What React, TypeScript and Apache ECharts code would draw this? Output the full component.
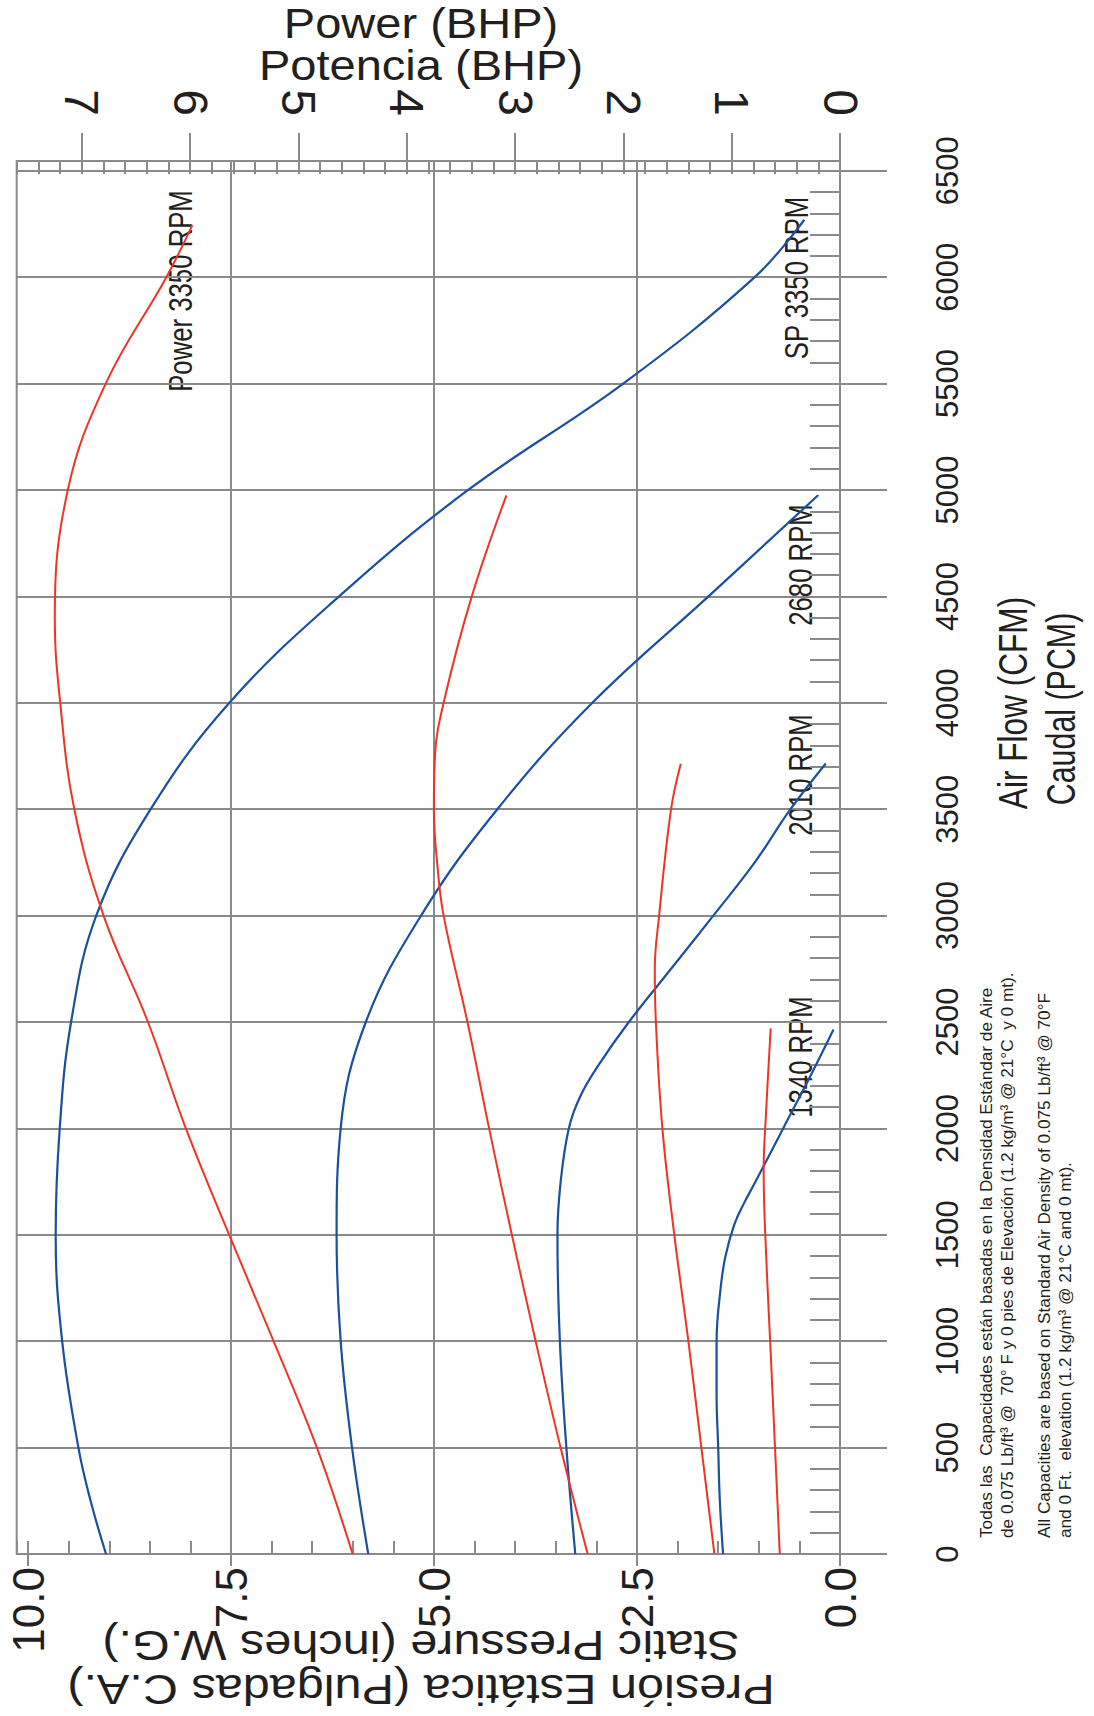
import React, { useEffect, useRef } from "react";
import * as echarts from "echarts";

// ---------- data ----------
const cfmTicks = [0, 500, 1000, 1500, 2000, 2500, 3000, 3500, 4000, 4500, 5000, 5500, 6000, 6500];
const pressureTicks = [0, 2.5, 5, 7.5, 10];
const pressureGrid = [2.5, 5, 7.5];
const powerTicks = [0, 1, 2, 3, 4, 5, 6, 7];

// Static pressure curves (inches W.G.) vs air flow (CFM)
const sp3350Cfm = [0, 250, 500, 1000, 1500, 2000, 2500, 3000, 3500, 4000, 4500, 5000, 5500, 6000, 6270];
const sp3350 = [9.04, 9.23, 9.38, 9.58, 9.66, 9.61, 9.47, 9.16, 8.49, 7.52, 6.17, 4.58, 2.67, 1.05, 0.44];

const sp2680Cfm = [0, 500, 1000, 1500, 2000, 2500, 3000, 3500, 4000, 4500, 4975];
const sp2680 = [5.81, 6.01, 6.15, 6.2, 6.15, 5.84, 5.16, 4.22, 3.05, 1.62, 0.27];

const sp2010Cfm = [0, 500, 1000, 1500, 1750, 2000, 2150, 2300, 2500, 2750, 3000, 3250, 3500, 3715];
const sp2010 = [3.26, 3.37, 3.45, 3.48, 3.44, 3.34, 3.2, 2.97, 2.6, 2.08, 1.56, 1.05, 0.61, 0.175];

const sp1340Cfm = [0, 250, 500, 750, 1000, 1250, 1400, 1550, 1650, 1750, 2000, 2250, 2465];
const sp1340 = [1.44, 1.48, 1.5, 1.52, 1.52, 1.47, 1.41, 1.3, 1.18, 1.04, 0.7, 0.36, 0.08];

// Power curves (BHP) vs air flow (CFM)
const pw3350Cfm = [0, 500, 1000, 1500, 2000, 2500, 3000, 3500, 4000, 4400, 5000, 5500, 6000, 6245];
const pw3350 = [4.5, 4.83, 5.23, 5.64, 6.04, 6.39, 6.8, 7.07, 7.2, 7.25, 7.13, 6.78, 6.22, 5.98];

const pw2680Cfm = [0, 500, 1000, 1500, 2000, 2500, 3000, 3250, 3500, 3750, 4000, 4500, 4975];
const pw2680 = [2.33, 2.58, 2.81, 3.03, 3.24, 3.44, 3.66, 3.72, 3.75, 3.74, 3.66, 3.4, 3.08];

const pw2010Cfm = [0, 500, 1000, 1500, 2000, 2500, 2750, 3000, 3500, 3714];
const pw2010 = [1.16, 1.28, 1.4, 1.53, 1.64, 1.7, 1.71, 1.67, 1.56, 1.47];

const pw1340Cfm = [0, 500, 1000, 1500, 1800, 2100, 2470];
const pw1340 = [0.556, 0.6, 0.645, 0.69, 0.705, 0.68, 0.64];

const curveLabels = ["Power 3350 RPM", "SP 3350 RPM", "2680 RPM", "2010 RPM", "1340 RPM"];
const powerTitle = "Power (BHP)\nPotencia (BHP)";
const pressureTitle = "Presión Estática (Pulgadas C.A.)\nStatic Pressure (inches W.G.)";
const flowTitle = ["Air Flow (CFM)", "Caudal (PCM)"];
const notes = [
  "Todas las  Capacidades están basadas en la Densidad Estándar de Aire",
  "de 0.075 Lb/ft³ @  70° F y 0 pies de Elevación (1.2 kg/m³ @ 21°C  y 0 mt).",
  "All Capacities are based on Standard Air Density of 0.075 Lb/ft³ @ 70°F",
  "and 0 Ft.  elevation (1.2 kg/m³ @ 21°C and 0 mt).",
];

// ---------- styling ----------
const PMAX = 10.14;
const WMAX = 7.602;
const CMAX = 6546;
const GRID = "#8a8a8c";
const BLUE = "#1b4f9f";
const RED = "#ee3426";
const INK = "#231f20";
const SANS = '"Liberation Sans", Arial, Helvetica, sans-serif';

const pairs = (vals: number[], cfm: number[]) => cfm.map((c, i) => [vals[i], c]);

function App() {
  const ref = useRef<HTMLDivElement>(null);

  useEffect(() => {
    document.body.style.margin = "0";
    if (!ref.current) return;
    const chart = echarts.init(ref.current, undefined, { renderer: "svg" });

    const curve = (name: string, data: number[][], color: string, xi: number, width: number) => ({
      name,
      type: "line",
      xAxisIndex: xi,
      yAxisIndex: 0,
      data,
      smooth: 0.4,
      showSymbol: false,
      symbol: "none",
      z: 5,
      lineStyle: { color, width },
      emphasis: { disabled: true },
    });

    const rotText = (
      text: string,
      x: number,
      y: number,
      size: number,
      rotation: number,
      align = "center",
      scaleX = 1,
      lineHeight?: number
    ) => ({
      type: "text",
      x,
      y,
      rotation,
      scaleX,
      silent: true,
      style: {
        text,
        font: `${size}px ${SANS}`,
        fill: INK,
        lineHeight: lineHeight ?? Math.round(size * 1.15),
        textAlign: align,
        align,
        textVerticalAlign: "middle",
        verticalAlign: "middle",
      },
    });

    const option: any = {
      animation: false,
      backgroundColor: "#ffffff",
      grid: {
        left: 16.7,
        top: 161,
        width: 823.3,
        height: 1393,
        show: true,
        borderColor: GRID,
        borderWidth: 2,
        backgroundColor: "transparent",
        containLabel: false,
        outerBoundsMode: "none",
      },
      xAxis: [
        {
          type: "value",
          position: "bottom",
          min: 0,
          max: PMAX,
          inverse: true,
          interval: 2.5,
          axisLine: { show: false },
          axisTick: { show: true, inside: false, length: 12, customValues: pressureTicks, lineStyle: { color: GRID, width: 2 } },
          axisLabel: {
            show: true,
            rotate: 90,
            margin: 13,
            customValues: pressureTicks,
            formatter: (v: number) => v.toFixed(1),
            fontFamily: SANS,
            fontSize: 44,
            color: INK,
          },
          splitLine: { show: false },
        },
        {
          type: "value",
          position: "bottom",
          min: 0,
          max: PMAX,
          inverse: true,
          interval: 0.5,
          axisLine: { show: false },
          axisTick: { show: true, inside: true, length: 13, lineStyle: { color: GRID, width: 2 } },
          axisLabel: { show: false },
          splitLine: { show: false },
        },
        {
          type: "value",
          position: "top",
          min: 0,
          max: WMAX,
          inverse: true,
          interval: 1,
          axisLine: { show: false },
          axisTick: { show: true, inside: false, length: 28, customValues: powerTicks, lineStyle: { color: GRID, width: 2 } },
          axisLabel: {
            show: true,
            rotate: 90,
            margin: 45,
            customValues: powerTicks,
            formatter: (v: number) => String(Math.round(v)),
            fontFamily: SANS,
            fontSize: 48,
            color: INK,
          },
          splitLine: { show: false },
        },
        {
          type: "value",
          position: "top",
          min: 0,
          max: WMAX,
          inverse: true,
          interval: 0.2,
          axisLine: { show: false },
          axisTick: { show: true, inside: true, length: 13, lineStyle: { color: GRID, width: 2 } },
          axisLabel: { show: false },
          splitLine: { show: false },
        },
      ],
      yAxis: [
        {
          type: "value",
          position: "right",
          min: 0,
          max: CMAX,
          interval: 500,
          axisLine: { show: false },
          axisTick: { show: true, inside: false, length: 47, customValues: cfmTicks, lineStyle: { color: GRID, width: 2 } },
          axisLabel: {
            show: true,
            rotate: 90,
            margin: 92,
            customValues: cfmTicks,
            formatter: (v: number) => String(Math.round(v)),
            fontFamily: SANS,
            fontSize: 31,
            color: INK,
          },
          splitLine: { show: true, lineStyle: { color: GRID, width: 2 } },
        },
        {
          type: "value",
          position: "right",
          min: 0,
          max: CMAX,
          interval: 100,
          axisLine: { show: false },
          axisTick: { show: true, inside: true, length: 30, lineStyle: { color: GRID, width: 2 } },
          axisLabel: { show: false },
          splitLine: { show: false },
        },
      ],
      series: [
        {
          name: "grid",
          type: "line",
          xAxisIndex: 0,
          yAxisIndex: 0,
          data: [[0, 0]],
          showSymbol: false,
          symbol: "none",
          lineStyle: { opacity: 0 },
          z: 1,
          silent: true,
          markLine: {
            silent: true,
            symbol: ["none", "none"],
            label: { show: false },
            lineStyle: { color: GRID, width: 2, type: "solid" },
            emphasis: { disabled: true },
            data: pressureGrid.map((v) => ({ xAxis: v })),
          },
        },
        curve("SP 3350", pairs(sp3350, sp3350Cfm), BLUE, 0, 2.2),
        curve("SP 2680", pairs(sp2680, sp2680Cfm), BLUE, 0, 2.2),
        curve("SP 2010", pairs(sp2010, sp2010Cfm), BLUE, 0, 2.2),
        curve("SP 1340", pairs(sp1340, sp1340Cfm), BLUE, 0, 2.2),
        curve("Power 3350", pairs(pw3350, pw3350Cfm), RED, 2, 2),
        curve("Power 2680", pairs(pw2680, pw2680Cfm), RED, 2, 2),
        curve("Power 2010", pairs(pw2010, pw2010Cfm), RED, 2, 2),
        curve("Power 1340", pairs(pw1340, pw1340Cfm), RED, 2, 2),
      ],
      graphic: [
        rotText(powerTitle, 421, 44, 42, 0, "center", 1.12, 42),
        rotText(pressureTitle, 421, 1668, 43, Math.PI, "center", 1.13, 43),
        rotText(flowTitle[0], 1013, 703, 40, Math.PI / 2, "center", 0.79),
        rotText(flowTitle[1], 1061, 709, 40, Math.PI / 2, "center", 0.76),
        rotText(curveLabels[0], 180, 291, 33, Math.PI / 2, "center", 0.78),
        rotText(curveLabels[1], 796, 278, 33, Math.PI / 2, "center", 0.78),
        rotText(curveLabels[2], 800, 565, 33, Math.PI / 2, "center", 0.78),
        rotText(curveLabels[3], 800, 775, 33, Math.PI / 2, "center", 0.78),
        rotText(curveLabels[4], 800, 1057, 33, Math.PI / 2, "center", 0.78),
        rotText(notes[0], 986, 1538, 17.2, Math.PI / 2, "left", 1, 19),
        rotText(notes[1], 1007, 1538, 17.2, Math.PI / 2, "left", 1, 19),
        rotText(notes[2], 1044, 1538, 17.2, Math.PI / 2, "left", 1, 19),
        rotText(notes[3], 1065, 1538, 17.2, Math.PI / 2, "left", 1, 19),
      ],
    };

    chart.setOption(option);
    return () => chart.dispose();
  }, []);

  return <div ref={ref} style={{ width: 1094, height: 1716 }} />;
}

export default App;
